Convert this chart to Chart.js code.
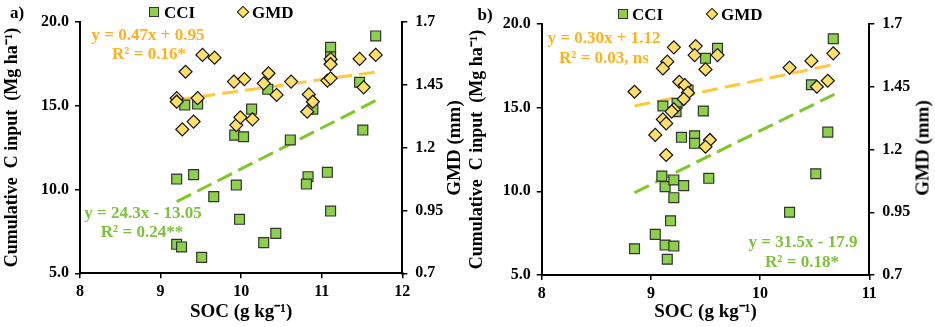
<!DOCTYPE html>
<html>
<head>
<meta charset="utf-8">
<title>CCI and GMD vs SOC</title>
<script src="https://cdn.jsdelivr.net/npm/chart.js"></script>
<style>
  body { margin: 0; background: #fff; font-family: 'Liberation Serif', serif; }
  #wrap { position: relative; width: 935px; height: 327px; overflow: hidden; }
  .panel { position: absolute; top: 0; height: 327px; }
  .txt { position: absolute; transform: translate(-50%, -50%); white-space: nowrap; font-weight: bold; line-height: 1; }
  .eq { font-size: 17px; }
  .orange { color: #FFB21E; }
  .green { color: #7EC23C; }
  .lbl { font-size: 17px; color: #000; }
  .leg { font-size: 17px; color: #000; transform: translate(0, -50%); }
  .sq { position: absolute; width: 8px; height: 8px; background: #8DD04A; border: 1px solid #333; transform: translate(-50%, -50%); }
  .dm { position: absolute; width: 7px; height: 7px; background: #FFE066; border: 1px solid #111; transform: translate(-50%, -50%) rotate(45deg); }
  .rtitle { position: absolute; transform: translate(-50%, -50%) rotate(-90deg); font-size: 19px; font-weight: bold; white-space: nowrap; line-height: 1; }
</style>
</head>
<body>
<div id="wrap">
  <div class="panel" style="left:0;width:465px"><canvas id="chartA" width="465" height="327"></canvas></div>
  <div class="panel" style="left:465px;width:470px"><canvas id="chartB" width="470" height="327"></canvas></div>

  <div class="txt lbl" style="left:17px;top:12px">a)</div>
  <div class="sq" style="left:154px;top:12px"></div>
  <div class="txt leg" style="left:164px;top:12px">CCI</div>
  <div class="dm" style="left:243px;top:12px"></div>
  <div class="txt leg" style="left:252px;top:12px">GMD</div>
  <div class="txt eq orange" style="left:148px;top:34px">y = 0.47x + 0.95</div>
  <div class="txt eq orange" style="left:149px;top:53px">R² = 0.16*</div>
  <div class="txt eq green" style="left:143px;top:212px">y = 24.3x - 13.05</div>
  <div class="txt eq green" style="left:142px;top:231px">R² = 0.24**</div>
  <div class="rtitle" style="left:453px;top:148px">GMD (mm)</div>

  <div class="txt lbl" style="left:485px;top:14px">b)</div>
  <div class="sq" style="left:623px;top:14px"></div>
  <div class="txt leg" style="left:632px;top:14px">CCI</div>
  <div class="dm" style="left:712px;top:14px"></div>
  <div class="txt leg" style="left:721px;top:14px">GMD</div>
  <div class="txt eq orange" style="left:604px;top:37px">y = 0.30x + 1.12</div>
  <div class="txt eq orange" style="left:604px;top:57px">R² = 0.03, ns</div>
  <div class="txt eq green" style="left:803px;top:241px">y = 31.5x - 17.9</div>
  <div class="txt eq green" style="left:802px;top:261px">R² = 0.18*</div>
  <div class="rtitle" style="left:922px;top:148px">GMD (mm)</div>
</div>

<script>
// panel a) data
const cciA_soc = [9.20, 9.20, 9.26, 9.30, 9.46, 9.41, 9.51, 9.66, 9.92, 9.94, 10.03, 9.98, 10.13, 10.28,
                  10.33, 10.43, 10.61, 10.83, 10.81, 10.89, 11.07, 11.11, 11.11, 11.11, 11.47, 11.51, 11.67];
const cciA_val = [10.62, 6.73, 6.57, 15.03, 15.09, 10.88, 5.95, 9.57, 13.24, 10.26, 13.14, 8.22, 14.79, 6.83,
                  15.97, 7.38, 12.95, 10.76, 10.32, 14.78, 11.02, 8.71, 18.47, 17.91, 16.39, 13.54, 19.15];
const gmdA_soc = [9.20, 9.20, 9.27, 9.31, 9.41, 9.46, 9.52, 9.67, 9.91, 9.94, 9.99, 10.04, 10.14, 10.28,
                  10.34, 10.44, 10.62, 10.84, 10.82, 10.89, 11.07, 11.11, 11.11, 11.11, 11.47, 11.52, 11.67];
const gmdA_val = [1.396, 1.382, 1.272, 1.501, 1.303, 1.396, 1.568, 1.557, 1.462, 1.289, 1.320, 1.472, 1.312, 1.455,
                  1.495, 1.409, 1.462, 1.411, 1.342, 1.382, 1.466, 1.475, 1.551, 1.531, 1.552, 1.439, 1.568];
const trendA_soc = [9.20, 11.67];
const trendA_cci = [9.27, 15.30];
const trendA_gmd = [1.389, 1.500];

// panel b) data
const cciB_soc = [9.10, 9.13, 9.21, 9.30, 9.21, 9.53, 9.18, 9.04, 9.13, 9.21, 8.85, 9.15, 9.61, 9.50,
                  9.11, 9.24, 9.23, 9.34, 9.48, 9.28, 9.40, 9.40, 10.27, 10.47, 10.51, 10.62, 10.67];
const cciB_val = [10.91, 10.28, 10.68, 10.34, 9.62, 10.78, 8.24, 7.43, 6.79, 6.73, 6.57, 5.94, 18.55, 17.95,
                  15.10, 15.26, 14.76, 16.06, 14.80, 13.23, 13.32, 12.87, 8.75, 16.37, 11.05, 13.54, 19.12];
const gmdB_soc = [9.21, 9.41, 9.40, 9.50, 9.15, 9.11, 8.85, 9.26, 9.31, 9.34, 9.30, 9.21, 9.19,
                  9.11, 9.14, 9.04, 9.14, 9.54, 9.50, 9.61, 10.27, 10.47, 10.52, 10.62, 10.67];
const gmdB_val = [1.607, 1.612, 1.576, 1.519, 1.550, 1.523, 1.430, 1.470, 1.457, 1.426, 1.401, 1.360, 1.351,
                  1.320, 1.304, 1.258, 1.178, 1.238, 1.211, 1.576, 1.526, 1.553, 1.450, 1.474, 1.583];
const trendB_soc = [8.85, 10.68];
const trendB_cci = [9.92, 15.80];
const trendB_gmd = [1.373, 1.539];

const cciTicks = [5, 20, 5];      // min, max, step
const gmdTicks = [0.7, 1.7, 0.25];

const FONT = 'Liberation Serif';
const pts = (xs, ys) => xs.map((x, i) => ({ x: x, y: ys[i] }));

function makePanel(id, d, box) {
  new Chart(document.getElementById(id), {
    type: 'scatter',
    data: {
      datasets: [
        { label: 'GMD', data: pts(d.gSoc, d.gVal), yAxisID: 'y2', pointStyle: 'rectRot', pointRadius: 6.5,
          backgroundColor: '#FFE066', borderColor: '#111', borderWidth: 1.2 },
        { label: 'CCI', data: pts(d.cSoc, d.cVal), yAxisID: 'y', pointStyle: 'rect', pointRadius: 7,
          backgroundColor: '#8DD04A', borderColor: '#333', borderWidth: 1.2 },
        { label: 'GMD trend', data: pts(d.tSoc, d.tGmd), yAxisID: 'y2', showLine: true, pointRadius: 0,
          borderColor: '#FFC93C', borderWidth: 3, borderDash: [16, 7] },
        { label: 'CCI trend', data: pts(d.tSoc, d.tCci), yAxisID: 'y', showLine: true, pointRadius: 0,
          borderColor: '#7EC828', borderWidth: 3, borderDash: [16, 7] }
      ]
    },
    options: {
      responsive: false,
      animation: false,
      layout: { padding: { top: box.top, left: 0, right: 0, bottom: 0 } },
      plugins: { legend: { display: false }, tooltip: { enabled: false } },
      scales: {
        x: {
          type: 'linear', min: 8, max: d.xMax,
          ticks: { stepSize: 1, color: '#000', padding: 4, font: { family: FONT, size: 16, weight: 'bold' } },
          grid: { drawOnChartArea: false, color: '#000', lineWidth: 1.5, tickLength: 5 },
          border: { color: '#000', width: 2 },
          title: { display: true, text: 'SOC (g kg⁻¹)', color: '#000', padding: { top: 0, bottom: 4 },
                   font: { family: FONT, size: 19, weight: 'bold' } },
          afterFit: s => { s.height = box.bottom; }
        },
        y: {
          position: 'left', min: cciTicks[0], max: cciTicks[1],
          ticks: { stepSize: cciTicks[2], color: '#000', padding: 6, callback: v => v.toFixed(1),
                   font: { family: FONT, size: 16, weight: 'bold' } },
          grid: { drawOnChartArea: false, color: '#000', lineWidth: 1.5, tickLength: 5 },
          border: { color: '#000', width: 2 },
          title: { display: true, text: 'Cumulative  C input  (Mg ha⁻¹)', color: '#000', padding: { top: 2, bottom: 0 },
                   font: { family: FONT, size: 18, weight: 'bold' } },
          afterFit: s => { s.width = box.left; }
        },
        y2: {
          position: 'right', min: gmdTicks[0], max: gmdTicks[1],
          ticks: { stepSize: gmdTicks[2], color: '#000', padding: 8, callback: v => String(+v.toFixed(2)),
                   font: { family: FONT, size: 16, weight: 'bold' } },
          grid: { drawOnChartArea: false, color: '#000', lineWidth: 1.5, tickLength: 5 },
          border: { color: '#000', width: 2 },
          afterFit: s => { s.width = box.right; }
        }
      }
    }
  });
}

makePanel('chartA',
  { cSoc: cciA_soc, cVal: cciA_val, gSoc: gmdA_soc, gVal: gmdA_val,
    tSoc: trendA_soc, tCci: trendA_cci, tGmd: trendA_gmd, xMax: 12 },
  { top: 21.7, left: 80, right: 62.7, bottom: 53.7 });

makePanel('chartB',
  { cSoc: cciB_soc, cVal: cciB_val, gSoc: gmdB_soc, gVal: gmdB_val,
    tSoc: trendB_soc, tCci: trendB_cci, tGmd: trendB_gmd, xMax: 11 },
  { top: 24, left: 76.7, right: 65.7, bottom: 52 });
</script>
</body>
</html>
